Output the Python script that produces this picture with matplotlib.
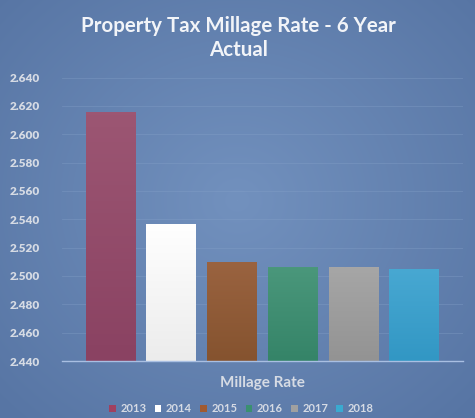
import numpy as np
import matplotlib
matplotlib.use("Agg")
import matplotlib.pyplot as plt
from matplotlib.patches import Patch

years = ["2013", "2014", "2015", "2016", "2017", "2018"]
rates = [2.616, 2.537, 2.510, 2.506, 2.506, 2.505]
colors_top = ["#9c5673", "#ffffff", "#9a6340", "#4a977b", "#a6a6a6", "#48a8d2"]
colors_bot = ["#8a4262", "#ececec", "#85532f", "#358468", "#939393", "#3297c4"]
legend_colors = ["#a0405f", "#ffffff", "#a05a30", "#3a9070", "#a0a0a0", "#3aaad0"]
yticks = [2.44 + 0.02 * i for i in range(11)]

plt.rcParams['font.family'] = ['Lato', 'DejaVu Sans']

fig = plt.figure(figsize=(4.75, 4.18), dpi=100)

# background gradient
bg = fig.add_axes([0, 0, 1, 1], zorder=-10)
yy, xx = np.mgrid[0:418, 0:475]
d = np.sqrt(((xx - 237) / 330.0) ** 2 + ((yy - 200) / 300.0) ** 2)
d = np.clip(d, 0, 1)
c_in = np.array([0x72, 0x91, 0xbe]) / 255.0
c_out = np.array([0x57, 0x75, 0xa4]) / 255.0
img = c_in[None, None, :] * (1 - d[..., None]) + c_out[None, None, :] * d[..., None]
bg.imshow(img, aspect='auto', extent=[0, 1, 0, 1], origin='upper')
bg.axis('off')

ax = fig.add_axes([62 / 475, 1 - 361 / 418, 401 / 475, (361 - 77.5) / 418])
ax.set_facecolor('none')
x = np.arange(len(years))
bars = ax.bar(x, np.array(rates) - 2.44, bottom=2.44, width=0.82,
              color=colors_top, zorder=3, edgecolor='none')
# gradient overlays clipped to each bar
for b, ct, cb in zip(bars, colors_top, colors_bot):
    c1 = np.array(matplotlib.colors.to_rgb(ct))
    c2 = np.array(matplotlib.colors.to_rgb(cb))
    t = np.linspace(0, 1, 64)[:, None]
    grad = (c1 * (1 - t) + c2 * t)[:, None, :]
    x0, y0 = b.get_x(), b.get_y()
    w, h = b.get_width(), b.get_height()
    im = ax.imshow(grad, extent=[x0, x0 + w, y0, y0 + h], aspect='auto',
                   origin='upper', zorder=4)
    im.set_clip_path(b)

ax.set_xlim(-0.8, 5.8)
ax.set_ylim(2.44, 2.64)
ax.set_yticks(yticks)
ax.set_yticklabels([f"{v:.3f}" for v in yticks])
ax.tick_params(axis='y', length=0, pad=16, labelsize=8.5, labelcolor='#d6dbe4')
for lab in ax.get_yticklabels():
    lab.set_fontweight('heavy')
ax.set_xticks([])
ax.grid(axis='y', color='#86a2c9', linewidth=0.6, alpha=0.4, zorder=0)
for s in ['top', 'right', 'left']:
    ax.spines[s].set_visible(False)
ax.spines['bottom'].set_color('#a9bfe2')
ax.spines['bottom'].set_linewidth(1.0)
ax.spines['bottom'].set_zorder(5)

fig.text(0.502, 1 - 38 / 418, "Property Tax Millage Rate - 6 Year\nActual", ha='center',
         va='center', fontsize=14.8, fontweight='bold', color='#f2f4f8',
         linespacing=1.25)
fig.text(0.553, 1 - 383 / 418, "Millage Rate", ha='center', va='center',
         fontsize=11, fontweight='bold', color='#d6dbe4')

handles = [Patch(facecolor=c, edgecolor='none') for c in legend_colors]
leg = fig.legend(handles, years, loc='center', bbox_to_anchor=(0.508, 1 - 409 / 418),
                 ncol=6, frameon=False, fontsize=8, handlelength=0.6,
                 handleheight=0.6, handletextpad=0.4, columnspacing=0.75)
for t in leg.get_texts():
    t.set_color('#d6dbe4')
    t.set_fontweight('bold')

fig.savefig("out.png", dpi=100)
